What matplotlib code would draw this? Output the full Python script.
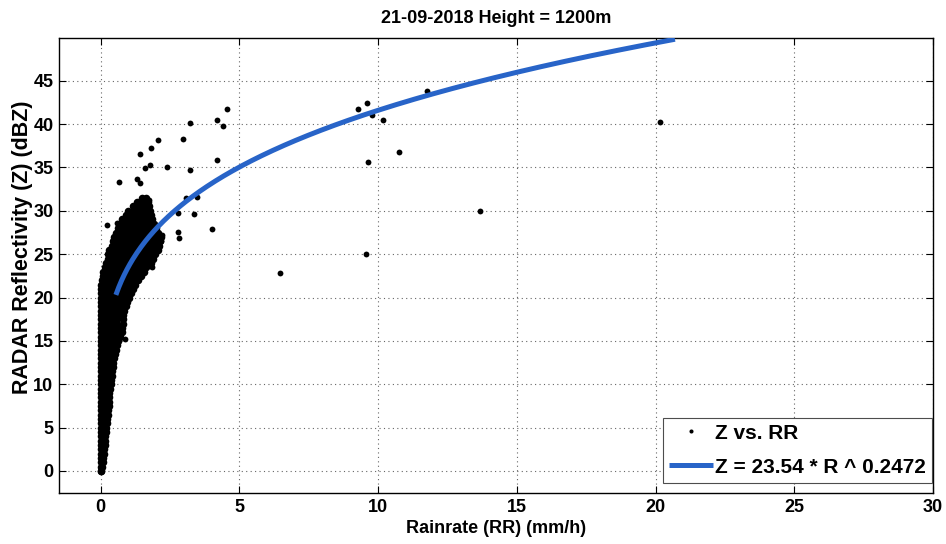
import numpy as np
import matplotlib
matplotlib.use("Agg")
import matplotlib.pyplot as plt

# ---------------- data ----------------
title_text = "21-09-2018 Height = 1200m"
x_label = "Rainrate (RR) (mm/h)"
y_label = "RADAR Reflectivity (Z) (dBZ)"
x_ticks = [0, 5, 10, 15, 20, 25, 30]
y_ticks = [0, 5, 10, 15, 20, 25, 30, 35, 40, 45]

sparse_x = [4.57, 3.22, 4.18, 4.40, 2.07, 2.96, 1.83, 1.42, 4.18, 1.77, 1.60, 2.39,
            3.22, 1.30, 1.42, 0.67, 3.08, 3.46, 1.62, 1.74, 6.47, 4.00, 3.38, 2.78,
            2.80, 2.84, 1.80, 0.22, 0.58, 2.19, 1.02, 9.27, 9.59, 9.78, 10.19, 11.77,
            10.76, 9.63, 13.66, 9.57, 20.17, 2.20, 0.88, 1.86]
sparse_y = [41.7, 40.15, 40.5, 39.8, 38.15, 38.3, 37.2, 36.5, 35.85, 35.3, 34.9, 35.1,
            34.7, 33.7, 33.2, 33.3, 31.5, 31.65, 30.9, 31.2, 22.8, 27.95, 29.6, 29.7,
            27.6, 26.9, 23.65, 28.4, 28.6, 26.5, 29.85, 41.7, 42.45, 41.1, 40.45, 43.85,
            36.8, 35.6, 29.96, 25.0, 40.27, 27.2, 15.2, 23.5]

# dense cluster of observations near the origin, row by row (Z level, RR values)
dense_rows = [
    (0.0, [0.0, 0.03]),
    (0.5, [0.0, 0.06]),
    (1.0, [0.0, 0.09]),
    (1.5, [0.0, 0.10]),
    (2.0, [0.0, 0.12]),
    (2.5, [0.0, 0.13]),
    (3.0, [0.0, 0.14]),
    (3.5, [0.0, 0.15]),
    (4.0, [0.0, 0.17]),
    (4.5, [0.0, 0.10, 0.18]),
    (5.0, [0.0, 0.10, 0.20]),
    (5.5, [0.0, 0.10, 0.22]),
    (6.0, [0.0, 0.12, 0.24]),
    (6.5, [0.0, 0.12, 0.26]),
    (7.0, [0.0, 0.12, 0.28]),
    (7.5, [0.0, 0.12, 0.32]),
    (8.0, [0.0, 0.14, 0.30]),
    (8.5, [0.0, 0.14, 0.30]),
    (9.0, [0.0, 0.14, 0.32]),
    (9.5, [0.0, 0.12, 0.24, 0.34]),
    (10.0, [0.0, 0.12, 0.24, 0.36]),
    (10.5, [0.0, 0.12, 0.24, 0.37]),
    (11.0, [0.0, 0.13, 0.26, 0.40]),
    (11.5, [0.0, 0.13, 0.26, 0.42]),
    (12.0, [0.0, 0.14, 0.28, 0.44]),
    (12.5, [0.0, 0.15, 0.30, 0.46]),
    (13.0, [0.0, 0.15, 0.30, 0.48]),
    (13.5, [0.0, 0.13, 0.26, 0.39, 0.52]),
    (14.0, [0.0, 0.14, 0.28, 0.42, 0.56]),
    (14.5, [0.0, 0.15, 0.30, 0.45, 0.60]),
    (15.0, [0.0, 0.15, 0.30, 0.45, 0.62]),
    (15.5, [0.0, 0.14, 0.28, 0.42, 0.56, 0.70]),
    (16.0, [0.0, 0.15, 0.30, 0.45, 0.60, 0.76]),
    (16.5, [0.0, 0.15, 0.30, 0.45, 0.60, 0.78]),
    (17.0, [0.0, 0.15, 0.30, 0.45, 0.60, 0.80]),
    (17.5, [0.0, 0.15, 0.30, 0.45, 0.60, 0.80]),
    (18.0, [0.0, 0.15, 0.30, 0.45, 0.60, 0.82]),
    (18.5, [0.0, 0.15, 0.30, 0.45, 0.60, 0.75, 0.85]),
    (19.0, [0.0, 0.15, 0.30, 0.45, 0.60, 0.75, 0.90]),
    (19.5, [0.0, 0.15, 0.30, 0.45, 0.60, 0.75, 0.95]),
    (20.0, [0.0, 0.15, 0.30, 0.45, 0.60, 0.75, 0.90, 1.02]),
    (20.5, [0.0, 0.15, 0.30, 0.45, 0.60, 0.75, 0.90, 1.08]),
    (21.0, [0.02, 0.17, 0.32, 0.47, 0.62, 0.77, 0.92, 1.07, 1.15]),
    (21.5, [0.03, 0.18, 0.33, 0.48, 0.63, 0.78, 0.93, 1.08, 1.25]),
    (22.0, [0.05, 0.20, 0.35, 0.50, 0.65, 0.80, 0.95, 1.10, 1.25, 1.35]),
    (22.5, [0.07, 0.22, 0.37, 0.52, 0.67, 0.82, 0.97, 1.12, 1.27, 1.45]),
    (23.0, [0.10, 0.25, 0.40, 0.55, 0.70, 0.85, 1.00, 1.15, 1.30, 1.45, 1.55]),
    (23.5, [0.14, 0.29, 0.44, 0.59, 0.74, 0.89, 1.04, 1.19, 1.34, 1.49, 1.65]),
    (24.0, [0.20, 0.35, 0.50, 0.65, 0.80, 0.95, 1.10, 1.25, 1.40, 1.55, 1.70, 1.80]),
    (24.5, [0.25, 0.40, 0.55, 0.70, 0.85, 1.00, 1.15, 1.30, 1.45, 1.60, 1.75, 1.88]),
    (25.0, [0.28, 0.43, 0.58, 0.73, 0.88, 1.03, 1.18, 1.33, 1.48, 1.63, 1.78, 1.95]),
    (25.5, [0.32, 0.47, 0.62, 0.77, 0.92, 1.07, 1.22, 1.37, 1.52, 1.67, 1.82, 1.97, 2.08]),
    (26.0, [0.40, 0.55, 0.70, 0.85, 1.00, 1.15, 1.30, 1.45, 1.60, 1.75, 1.90, 2.05, 2.12]),
    (26.5, [0.45, 0.60, 0.75, 0.90, 1.05, 1.20, 1.35, 1.50, 1.65, 1.80, 1.95, 2.15]),
    (27.0, [0.50, 0.65, 0.80, 0.95, 1.10, 1.25, 1.40, 1.55, 1.70, 1.85, 2.00, 2.18]),
    (27.5, [0.55, 0.70, 0.85, 1.00, 1.15, 1.30, 1.45, 1.60, 1.75, 1.90, 2.08]),
    (28.0, [0.62, 0.77, 0.92, 1.07, 1.22, 1.37, 1.52, 1.67, 1.82, 2.00]),
    (28.5, [0.68, 0.83, 0.98, 1.13, 1.28, 1.43, 1.58, 1.73, 1.92]),
    (29.0, [0.78, 0.93, 1.08, 1.23, 1.38, 1.53, 1.68, 1.85]),
    (29.5, [0.90, 1.05, 1.20, 1.35, 1.50, 1.65, 1.80]),
    (30.0, [1.00, 1.15, 1.30, 1.45, 1.60, 1.78]),
    (30.5, [1.15, 1.30, 1.45, 1.60, 1.75]),
    (31.0, [1.30, 1.45, 1.60, 1.70]),
    (31.5, [1.50, 1.65]),
]
dense_x = [x for _, xs in dense_rows for x in xs]
dense_y = [y for y, xs in dense_rows for _ in xs]

# power-law fit from the legend
fit_a = 23.54
fit_b = 0.2472
fit_range = (0.55, 20.7)
fit_label = "Z = 23.54 * R ^ 0.2472"
scatter_label = "Z vs. RR"

# ---------------- plot ----------------
plt.rcParams["font.family"] = ["Liberation Sans", "DejaVu Sans"]

W, H = 946, 544
fig = plt.figure(figsize=(W / 100, H / 100), dpi=100)
ax_l, ax_r, ax_t, ax_b = 59, 933, 38, 493
ax = fig.add_axes([ax_l / W, (H - ax_b) / H, (ax_r - ax_l) / W, (ax_b - ax_t) / H])

ax.scatter(dense_x, dense_y, s=30, c="black", marker="o", linewidths=0, zorder=2)
ax.plot(sparse_x, sparse_y, linestyle="none", marker="o", markersize=4.2,
        color="black", markeredgewidth=0, label=scatter_label, zorder=2)

xf = np.linspace(fit_range[0], fit_range[1], 400)
ax.plot(xf, fit_a * xf ** fit_b, color="#2864c8", lw=3.6, label=fit_label, zorder=3,
        solid_capstyle="butt")

ax.set_xlim(-1.5, 30)
ax.set_ylim(-2.54, 49.93)
ax.set_xticks(x_ticks)
ax.set_yticks(y_ticks)
ax.grid(True, linestyle=(0, (1, 3)), color="0.4", linewidth=0.8)
ax.tick_params(direction="in", length=5, top=True, right=True, width=0.8,
               labelsize=13, pad=4)
for lbl in ax.get_xticklabels() + ax.get_yticklabels():
    lbl.set_fontweight("bold")
for s in ax.spines.values():
    s.set_linewidth(1.0)

ax.set_xlabel(x_label, fontsize=13, fontweight="bold", labelpad=3)
ax.set_ylabel(y_label, fontsize=15.5, fontweight="bold")
ax.yaxis.set_label_coords(-0.03, (ax_b - 247) / (ax_b - ax_t))
ax.set_title(title_text, fontsize=13, fontweight="bold", pad=11)

leg = ax.legend(loc="lower right",
                bbox_to_anchor=((932 - ax_l) / (ax_r - ax_l), (ax_b - 483) / (ax_b - ax_t)),
                prop={"family": ["Liberation Sans", "DejaVu Sans"],
                      "weight": "bold", "size": 15},
                fancybox=False, framealpha=1, edgecolor="0.3", borderpad=0.3,
                handlelength=2.1, handletextpad=0.1, markerscale=0.7,
                borderaxespad=0.0, labelspacing=0.72)
leg.get_frame().set_linewidth(0.8)

fig.savefig("out.png", dpi=100)
